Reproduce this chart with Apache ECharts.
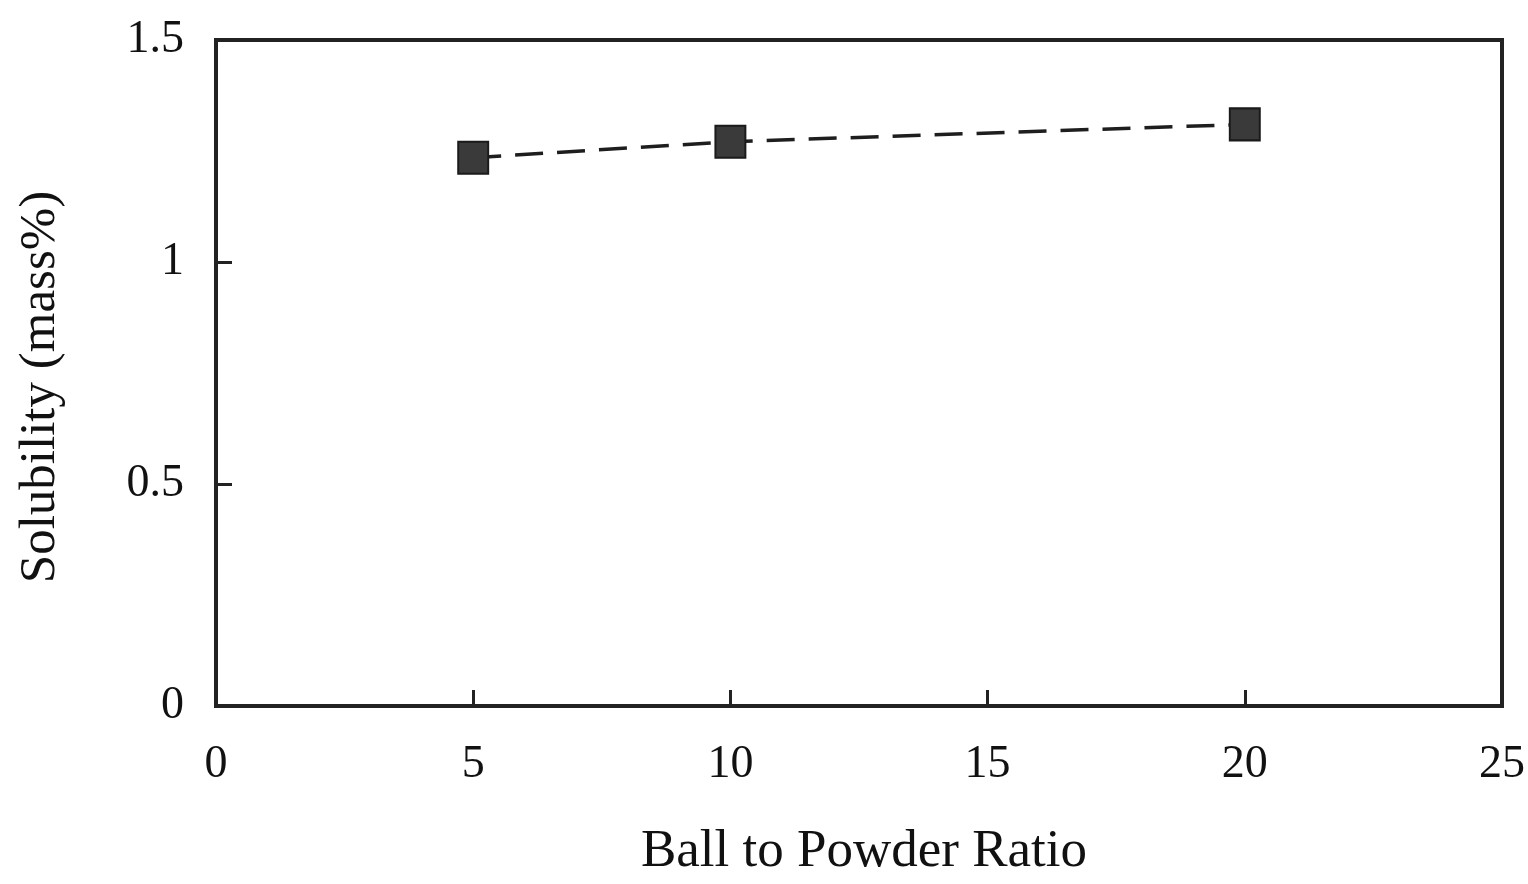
<!DOCTYPE html>
<html>
<head>
<meta charset="utf-8">
<script src="https://cdn.jsdelivr.net/npm/echarts@6/dist/echarts.min.js"></script>
<style>
html,body{margin:0;padding:0;background:#fff;}
#chart{width:1528px;height:884px;}
</style>
</head>
<body>
<div id="chart"></div>
<script>
const xValues = [5, 10, 20];
const solubility = [1.235, 1.271, 1.31];
const xTitle = 'Ball to Powder Ratio';
const yTitle = 'Solubility (mass%)';

const chart = echarts.init(document.getElementById('chart'));
const font = 'Liberation Serif';
chart.setOption({
  backgroundColor: '#fff',
  animation: false,
  grid: {left: 216, right: 23, top: 40, bottom: 170, show: true,
         borderColor: '#222', borderWidth: 4, backgroundColor: 'transparent'},
  xAxis: {
    type: 'value', min: 0, max: 25, interval: 5,
    name: xTitle, nameLocation: 'middle', nameGap: 120,
    nameTextStyle: {color: '#111', fontFamily: font, fontSize: 53, padding: [0, 0, 0, 10]},
    axisLine: {show: true, onZero: false, lineStyle: {color: '#222', width: 4}},
    axisTick: {show: true, inside: true, length: 16, lineStyle: {color: '#222', width: 3}},
    splitLine: {show: false},
    axisLabel: {color: '#111', fontFamily: font, fontSize: 46, margin: 36}
  },
  yAxis: {
    type: 'value', min: 0, max: 1.5, interval: 0.5,
    name: yTitle, nameLocation: 'middle', nameGap: 150, nameRotate: 90,
    nameTextStyle: {color: '#111', fontFamily: font, fontSize: 51, padding: [0, 28, 0, 0]},
    axisLine: {show: true, onZero: false, lineStyle: {color: '#222', width: 4}},
    axisTick: {show: true, inside: true, length: 16, lineStyle: {color: '#222', width: 3}},
    splitLine: {show: false},
    axisLabel: {color: '#111', fontFamily: font, fontSize: 46, margin: 32, formatter: v => String(v)}
  },
  series: [{
    type: 'line',
    data: xValues.map((x, i) => [x, solubility[i]]),
    symbol: 'rect', symbolSize: [30, 32],
    itemStyle: {color: '#3a3a3a', borderColor: '#1a1a1a', borderWidth: 2},
    lineStyle: {color: '#1e1e1e', width: 3.5, type: [28, 14]}
  }]
});
</script>
</body>
</html>
